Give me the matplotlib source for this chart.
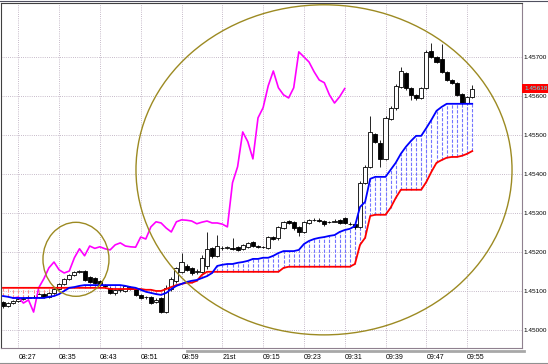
import matplotlib
matplotlib.use("Agg")
import matplotlib.pyplot as plt
import matplotlib.transforms as mtransforms
from matplotlib.patches import Ellipse
from matplotlib.lines import Line2D

plt.rcParams['font.family'] = ['Liberation Sans', 'DejaVu Sans']

# one-minute bars, 08:24 .. 09:56
opens = [1.45072, 1.45062, 1.45069, 1.45074, 1.45080, 1.45082, 1.45085, 1.45084, 1.45092, 1.45085,
         1.45095, 1.45105, 1.45118, 1.45131, 1.45141, 1.45149, 1.45151, 1.45136, 1.45133, 1.45126,
         1.45115, 1.45108, 1.45095, 1.45103, 1.45100, 1.45110, 1.45105, 1.45090, 1.45085, 1.45084,
         1.45072, 1.45082, 1.45046, 1.45105, 1.45126, 1.45149, 1.45164, 1.45159, 1.45149, 1.45149,
         1.45164, 1.45210, 1.45190, 1.45210, 1.45209, 1.45211, 1.45213, 1.45208, 1.45213, 1.45226,
         1.45215, 1.45213, 1.45210, 1.45238, 1.45236, 1.45261, 1.45279, 1.45277, 1.45264, 1.45251,
         1.45274, 1.45282, 1.45281, 1.45279, 1.45277, 1.45276, 1.45282, 1.45287, 1.45272, 1.45271,
         1.45264, 1.45377, 1.45418, 1.45502, 1.45479, 1.45438, 1.45540, 1.45569, 1.45622, 1.45658,
         1.45620, 1.45602, 1.45594, 1.45620, 1.45714, 1.45699, 1.45694, 1.45661, 1.45640, 1.45633,
         1.45604, 1.45581, 1.45597]
highs = [1.45074, 1.45072, 1.45077, 1.45082, 1.45085, 1.45087, 1.45090, 1.45095, 1.45095, 1.45098,
         1.45108, 1.45121, 1.45133, 1.45144, 1.45151, 1.45154, 1.45154, 1.45138, 1.45136, 1.45128,
         1.45118, 1.45110, 1.45105, 1.45108, 1.45115, 1.45113, 1.45108, 1.45092, 1.45087, 1.45087,
         1.45082, 1.45085, 1.45115, 1.45136, 1.45162, 1.45197, 1.45169, 1.45162, 1.45156, 1.45192,
         1.45251, 1.45213, 1.45243, 1.45215, 1.45215, 1.45236, 1.45215, 1.45220, 1.45226, 1.45228,
         1.45218, 1.45215, 1.45241, 1.45241, 1.45266, 1.45279, 1.45282, 1.45279, 1.45266, 1.45279,
         1.45284, 1.45287, 1.45287, 1.45282, 1.45279, 1.45284, 1.45284, 1.45290, 1.45277, 1.45274,
         1.45382, 1.45423, 1.45548, 1.45505, 1.45487, 1.45548, 1.45574, 1.45630, 1.45673, 1.45661,
         1.45622, 1.45604, 1.45622, 1.45717, 1.45735, 1.45702, 1.45732, 1.45663, 1.45643, 1.45635,
         1.45607, 1.45599, 1.45627]
lows = [1.45057, 1.45059, 1.45067, 1.45072, 1.45077, 1.45080, 1.45082, 1.45082, 1.45082, 1.45082,
        1.45092, 1.45103, 1.45115, 1.45128, 1.45138, 1.45146, 1.45126, 1.45121, 1.45118, 1.45113,
        1.45108, 1.45092, 1.45090, 1.45098, 1.45098, 1.45103, 1.45087, 1.45080, 1.45080, 1.45067,
        1.45069, 1.45044, 1.45044, 1.45100, 1.45121, 1.45146, 1.45151, 1.45141, 1.45144, 1.45146,
        1.45156, 1.45185, 1.45187, 1.45205, 1.45208, 1.45205, 1.45202, 1.45205, 1.45210, 1.45213,
        1.45210, 1.45210, 1.45208, 1.45231, 1.45231, 1.45259, 1.45272, 1.45256, 1.45241, 1.45249,
        1.45272, 1.45279, 1.45277, 1.45266, 1.45274, 1.45276, 1.45272, 1.45272, 1.45269, 1.45259,
        1.45261, 1.45374, 1.45415, 1.45479, 1.45418, 1.45435, 1.45538, 1.45563, 1.45620, 1.45615,
        1.45589, 1.45589, 1.45592, 1.45617, 1.45697, 1.45684, 1.45658, 1.45638, 1.45630, 1.45599,
        1.45579, 1.45579, 1.45594]
closes = [1.45062, 1.45069, 1.45074, 1.45080, 1.45082, 1.45085, 1.45084, 1.45092, 1.45085, 1.45095,
          1.45105, 1.45118, 1.45131, 1.45141, 1.45149, 1.45151, 1.45128, 1.45123, 1.45121, 1.45115,
          1.45113, 1.45095, 1.45103, 1.45105, 1.45113, 1.45105, 1.45090, 1.45082, 1.45084, 1.45069,
          1.45077, 1.45046, 1.45108, 1.45131, 1.45159, 1.45174, 1.45154, 1.45146, 1.45151, 1.45185,
          1.45208, 1.45190, 1.45215, 1.45209, 1.45213, 1.45208, 1.45205, 1.45218, 1.45223, 1.45215,
          1.45213, 1.45212, 1.45238, 1.45233, 1.45264, 1.45277, 1.45274, 1.45261, 1.45251, 1.45277,
          1.45282, 1.45281, 1.45279, 1.45272, 1.45276, 1.45279, 1.45274, 1.45274, 1.45271, 1.45264,
          1.45377, 1.45418, 1.45507, 1.45482, 1.45438, 1.45543, 1.45569, 1.45625, 1.45663, 1.45620,
          1.45602, 1.45594, 1.45620, 1.45712, 1.45699, 1.45686, 1.45661, 1.45640, 1.45633, 1.45602,
          1.45581, 1.45597, 1.45618]

# ichimoku cloud edges
span_a = [1.45087, 1.45085, 1.45082, 1.45082, 1.45082, 1.45082, 1.45082, 1.45082, 1.45082, 1.45085,
          1.45087, 1.45092, 1.45100, 1.45108, 1.45110, 1.45113, 1.45115, 1.45115, 1.45115, 1.45115,
          1.45115, 1.45115, 1.45115, 1.45115, 1.45113, 1.45110, 1.45108, 1.45103, 1.45098, 1.45095,
          1.45092, 1.45090, 1.45095, 1.45105, 1.45113, 1.45118, 1.45123, 1.45126, 1.45128, 1.45133,
          1.45138, 1.45146, 1.45164, 1.45167, 1.45169, 1.45169, 1.45172, 1.45174, 1.45177, 1.45182,
          1.45182, 1.45185, 1.45185, 1.45190, 1.45197, 1.45202, 1.45202, 1.45202, 1.45205, 1.45220,
          1.45228, 1.45233, 1.45236, 1.45238, 1.45241, 1.45243, 1.45251, 1.45256, 1.45259, 1.45266,
          1.45315, 1.45328, 1.45387, 1.45392, 1.45392, 1.45392, 1.45410, 1.45428, 1.45451, 1.45469,
          1.45484, 1.45497, 1.45497, 1.45517, 1.45538, 1.45561, 1.45571, 1.45579, 1.45579, 1.45579,
          1.45579, 1.45579, 1.45579]
span_b = [1.45108, 1.45108, 1.45108, 1.45108, 1.45108, 1.45108, 1.45108, 1.45108, 1.45108, 1.45108,
          1.45108, 1.45108, 1.45108, 1.45108, 1.45108, 1.45108, 1.45108, 1.45108, 1.45108, 1.45108,
          1.45108, 1.45105, 1.45105, 1.45105, 1.45105, 1.45105, 1.45105, 1.45105, 1.45103, 1.45103,
          1.45100, 1.45100, 1.45105, 1.45110, 1.45115, 1.45118, 1.45121, 1.45121, 1.45126, 1.45141,
          1.45149, 1.45149, 1.45149, 1.45149, 1.45149, 1.45149, 1.45149, 1.45149, 1.45149, 1.45149,
          1.45149, 1.45149, 1.45149, 1.45149, 1.45149, 1.45159, 1.45162, 1.45162, 1.45162, 1.45162,
          1.45162, 1.45162, 1.45162, 1.45162, 1.45162, 1.45162, 1.45162, 1.45162, 1.45162, 1.45169,
          1.45218, 1.45236, 1.45292, 1.45295, 1.45295, 1.45295, 1.45313, 1.45338, 1.45359, 1.45359,
          1.45359, 1.45359, 1.45359, 1.45379, 1.45405, 1.45428, 1.45435, 1.45441, 1.45443, 1.45443,
          1.45446, 1.45451, 1.45458]

chikou_shift = 25
chikou_first = 27   # first bar whose chikou point is visible
tick_bars = [3, 11, 19, 27, 35, 43, 51, 59, 67, 75, 83, 91]
tick_labels = ['08:27', '08:35', '08:43', '08:51', '08:59', '21st',
               '09:15', '09:23', '09:31', '09:39', '09:47', '09:55']
price_ticks = [1.450, 1.451, 1.452, 1.453, 1.454, 1.455, 1.456, 1.457]
last_price = 1.45618

n = len(closes)
xs = list(range(n))

fig = plt.figure(figsize=(5.48, 3.64), dpi=100)
ax = fig.add_axes([1 / 548, 16 / 364, 521 / 548, 345 / 364])
ax.set_xlim(-0.39, 101.76)
ax.set_ylim(1.44954, 1.45837)

# grid
ax.set_xticks(tick_bars)
ax.set_xticklabels(tick_labels)
ax.set_yticks(price_ticks)
ax.set_yticklabels(['%.5f' % p for p in price_ticks])
ax.grid(True, color='#b4a4b8', linestyle=(0, (1, 1.6)), linewidth=0.6, zorder=0)
ax.set_axisbelow(True)

# cloud hatch
up_x = [x for x in xs if span_a[x] >= span_b[x]]
dn_x = [x for x in xs if span_a[x] < span_b[x]]
ax.vlines(up_x, [span_b[x] for x in up_x], [span_a[x] for x in up_x],
          colors='#7474ff', linestyles=(0, (3, 1.4)), linewidth=0.8, zorder=1.5)
ax.vlines(dn_x, [span_a[x] for x in dn_x], [span_b[x] for x in dn_x],
          colors='#ff8c8c', linestyles=(0, (3, 1.4)), linewidth=0.8, zorder=1.5)

# candles
ax.vlines(xs, lows, highs, colors='black', linewidth=0.6, zorder=2)
bull = [x for x in xs if closes[x] >= opens[x]]
bear = [x for x in xs if closes[x] < opens[x]]
ax.bar(bull, [max(closes[x] - opens[x], 0.000005) for x in bull], bottom=[opens[x] for x in bull],
       width=0.8, facecolor='white', edgecolor='black', linewidth=0.6, zorder=2.5)
ax.bar(bear, [opens[x] - closes[x] for x in bear], bottom=[closes[x] for x in bear],
       width=0.8, facecolor='black', edgecolor='black', linewidth=0.6, zorder=2.5)

# chikou span
ch_x = [x - chikou_shift for x in xs[chikou_first:]]
ax.plot(ch_x, closes[chikou_first:], color='#ff00ff', linewidth=1.2, zorder=3)

# span lines
ax.plot(xs, span_b, color='#ff0000', linewidth=1.3, zorder=4)
ax.plot(xs, span_a, color='#0000ff', linewidth=1.3, zorder=4)

# hand-drawn circles
ax.add_patch(Ellipse((62.94, 1.45410), 73.73, 0.008448, fill=False,
                     edgecolor='#9c8a22', linewidth=1.0, zorder=5))
ax.add_patch(Ellipse((14.31, 1.45181), 12.94, 0.001894, fill=False,
                     edgecolor='#9c8a22', linewidth=1.0, zorder=5))

# axes look
ax.yaxis.tick_right()
ax.tick_params(axis='y', length=0, pad=1.2, labelsize=4.6, labelcolor='black')
ax.tick_params(axis='x', length=0, pad=4, labelsize=5, labelcolor='black')
for lbl in ax.get_xticklabels():
    lbl.set_horizontalalignment('left')
for side in ['left', 'top']:
    ax.spines[side].set_color('#404040')
    ax.spines[side].set_linewidth(0.8)
for side in ['right', 'bottom']:
    ax.spines[side].set_color('#8f808f')
    ax.spines[side].set_linewidth(0.8)

# current price tag
trans = mtransforms.blended_transform_factory(ax.transAxes, ax.transData)
ax.text(1.004, last_price, '%.5f' % last_price, transform=trans, ha='left', va='center',
        fontsize=4.6, color='#3ff8ff', clip_on=False, zorder=6,
        bbox=dict(boxstyle='square,pad=0.25', facecolor='#ff0000', edgecolor='none'))

# window borders
fig.add_artist(Line2D([187 / 548, 524 / 548], [1 - 351 / 364] * 2, color='#a8a8a8', linewidth=2))
fig.add_artist(Line2D([0, 1], [1 - 362.5 / 364] * 2, color='#909090', linewidth=0.8))
fig.add_artist(Line2D([0, 1], [1 - 0.8 / 364] * 2, color='#505060', linewidth=0.8))

fig.savefig('out.png', dpi=100)
